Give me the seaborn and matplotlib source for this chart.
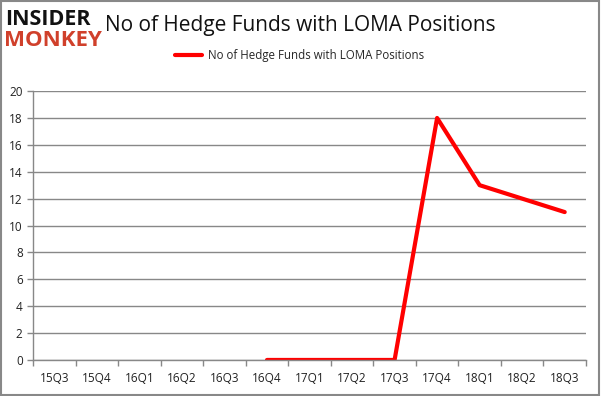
import numpy as np
import pandas as pd
import seaborn as sns
import matplotlib.pyplot as plt
from matplotlib.patches import Rectangle

sns.set_theme(style="white")
plt.rcParams["font.family"] = ["Open Sans", "DejaVu Sans"]

quarters = ["15Q3", "15Q4", "16Q1", "16Q2", "16Q3", "16Q4", "17Q1",
            "17Q2", "17Q3", "17Q4", "18Q1", "18Q2", "18Q3"]
num_funds = [np.nan, np.nan, np.nan, np.nan, np.nan, 0, 0, 0, 0, 18, 13, 12, 11]
series_name = "No of Hedge Funds with LOMA Positions"

df = pd.DataFrame({"pos": range(len(quarters)), "quarter": quarters, "funds": num_funds})

fig = plt.figure(figsize=(6.01, 3.96), dpi=100)
ax = fig.add_axes([0.055, 0.091, 0.92, 0.679])

sns.lineplot(data=df.dropna(), x="pos", y="funds", ax=ax, color="#ff0000",
             linewidth=3, label=series_name)

ax.set_xlim(-0.5, len(quarters) - 0.5)
ax.set_ylim(0, 20)
ax.set_yticks(range(0, 21, 2))
ax.yaxis.grid(True, color="#888888", linewidth=1)
ax.set_axisbelow(True)
ax.set_xticks(range(len(quarters)))
ax.set_xticklabels(quarters, fontsize=8.5, color="#222222")
ax.set_xticks(np.arange(-0.5, len(quarters), 1), minor=True)
ax.tick_params(axis="x", which="major", length=0, pad=9)
ax.tick_params(axis="x", which="minor", length=4, color="#888888", width=1, bottom=True)
ax.tick_params(axis="y", length=4, color="#888888", width=1, labelsize=8.5, left=True,
               labelcolor="#222222")
ax.set_xlabel("")
ax.set_ylabel("")
for side in ["top", "right"]:
    ax.spines[side].set_visible(False)
for side in ["left", "bottom"]:
    ax.spines[side].set_color("#888888")
    ax.spines[side].set_linewidth(1)

ax.legend(loc="lower center", bbox_to_anchor=(0.482, 1.07), frameon=False,
          fontsize=8.3, handlelength=2.3, handletextpad=0.5)

fig.text(0.5, 0.935, series_name, ha="center", va="center", fontsize=15, color="#111111")

# logo
fig.text(0.008, 0.952, "INSIDER", ha="left", va="center", fontsize=15.5,
         fontweight="bold", color="#111111")
fig.text(0.006, 0.898, "MONKEY", ha="left", va="center", fontsize=16,
         fontweight="bold", color="#d0402b")

fig.patches.append(Rectangle((0.002, 0.003), 0.995, 0.994, transform=fig.transFigure,
                             fill=False, edgecolor="#888888", linewidth=1.5))

fig.savefig("out.png", dpi=100)
